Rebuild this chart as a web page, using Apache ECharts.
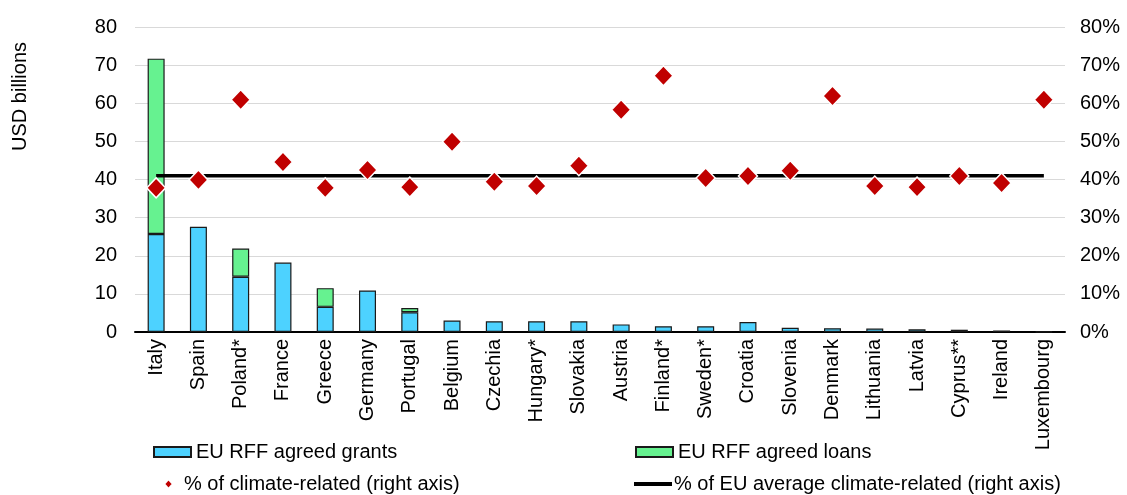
<!DOCTYPE html>
<html>
<head>
    <meta charset="utf-8">
    <title>EU RFF</title>
    <script type="text/javascript" src="https://cdn.jsdelivr.net/npm/echarts@6/dist/echarts.min.js"></script>
    <style>body{margin:0;background:#fff}</style>
</head>
<body>
<div id="main" style="width:1127px;height:495px;"></div>
<script type="text/javascript">
    // 数据
    var countries = ['Italy', 'Spain', 'Poland*', 'France', 'Greece', 'Germany', 'Portugal', 'Belgium', 'Czechia',
        'Hungary*', 'Slovakia', 'Austria', 'Finland*', 'Sweden*', 'Croatia', 'Slovenia', 'Denmark', 'Lithuania',
        'Latvia', 'Cyprus**', 'Ireland', 'Luxembourg'];
    var grants = [25.7, 27.6, 14.5, 18.2, 6.6, 10.9, 5.2, 3.0, 2.8, 2.8, 2.8, 2.0, 1.5, 1.5, 2.6, 1.1, 1.0, 0.9, 0.7, 0.6, 0.4, 0.1];
    var loans = [46.0, 0, 7.4, 0, 4.9, 0, 1.1, 0, 0, 0, 0, 0, 0, 0, 0, 0, 0, 0, 0, 0, 0, 0];
    var climatePct = [37.8, 39.9, 60.9, 44.6, 37.8, 42.5, 38.0, 49.9, 39.4, 38.3, 43.6, 58.3, 67.2, 40.4, 40.9, 42.3,
        61.9, 38.3, 38.0, 40.9, 39.1, 60.9];
    var euAvgPct = 41.0;

    var font = 'Liberation Sans, Arial, sans-serif';
    var fs = 20;
    var chart = echarts.init(document.getElementById('main'));

    var legendBase = {
        orient: 'horizontal',
        itemGap: 0,
        textStyle: {fontFamily: font, fontSize: fs, color: '#000'}
    };

    var option = {
        backgroundColor: '#fff',
        animation: false,
        textStyle: {fontFamily: font},
        grid: {left: 135, right: 62, top: 27, bottom: 163},
        graphic: [{
            type: 'text',
            left: 10,
            top: 42,
            rotation: Math.PI / 2,
            style: {text: 'USD billions', fontFamily: font, fontSize: fs, fill: '#000'}
        }],
        legend: [
            Object.assign({}, legendBase, {data: [{name: 'EU RFF agreed grants', icon: 'rect'}], left: 148, top: 437, itemWidth: 37, itemHeight: 10}),
            Object.assign({}, legendBase, {data: [{name: 'EU RFF agreed loans', icon: 'rect'}], left: 630, top: 437, itemWidth: 37, itemHeight: 10}),
            Object.assign({}, legendBase, {data: [{name: '% of climate-related (right axis)', icon: 'diamond'}], left: 158, top: 469, itemWidth: 9, itemHeight: 10,
                textStyle: {fontFamily: font, fontSize: fs, color: '#000', padding: [0, 0, 0, 6]}}),
            Object.assign({}, legendBase, {data: [{name: '% of EU average climate-related (right axis)', icon: 'rect'}], left: 629, top: 469, itemWidth: 38, itemHeight: 4,
                textStyle: {fontFamily: font, fontSize: fs, color: '#000', padding: [0, 0, 0, -3]}})
        ],
        xAxis: {
            type: 'category',
            data: countries,
            axisLine: {lineStyle: {color: '#000', width: 2}},
            axisTick: {show: false},
            axisLabel: {rotate: 90, color: '#000', fontSize: fs, fontFamily: font, margin: 7, interval: 0}
        },
        yAxis: [{
            type: 'value',
            min: 0, max: 80, interval: 10,
            axisLine: {show: false},
            axisTick: {show: false},
            axisLabel: {color: '#000', fontSize: fs, fontFamily: font, margin: 18},
            splitLine: {lineStyle: {color: '#d9d9d9', width: 1}}
        }, {
            type: 'value',
            min: 0, max: 80, interval: 10,
            axisLine: {show: false},
            axisTick: {show: false},
            axisLabel: {color: '#000', fontSize: fs, fontFamily: font, margin: 15, formatter: '{value}%'},
            splitLine: {show: false}
        }],
        series: [{
            name: 'EU RFF agreed grants',
            type: 'bar',
            stack: 'rff',
            barWidth: 17,
            data: grants,
            itemStyle: {color: '#4dd2ff', borderColor: '#1a1a1a', borderWidth: 1.2}
        }, {
            name: 'EU RFF agreed loans',
            type: 'bar',
            stack: 'rff',
            barWidth: 17,
            data: loans.map(function (v) { return v === 0 ? null : v; }),
            itemStyle: {color: '#66f290', borderColor: '#1a1a1a', borderWidth: 1.2}
        }, {
            name: '% of EU average climate-related (right axis)',
            type: 'line',
            yAxisIndex: 1,
            data: countries.map(function () { return euAvgPct; }),
            symbol: 'none',
            lineStyle: {color: '#000', width: 3.5},
            itemStyle: {color: '#000'},
            z: 3
        }, {
            name: '% of climate-related (right axis)',
            type: 'scatter',
            yAxisIndex: 1,
            data: climatePct,
            symbol: 'diamond',
            symbolSize: [19, 20],
            itemStyle: {color: '#c00000', borderColor: '#fff', borderWidth: 1.5, opacity: 1},
            z: 4
        }]
    };
    chart.setOption(option);
</script>
</body>
</html>
